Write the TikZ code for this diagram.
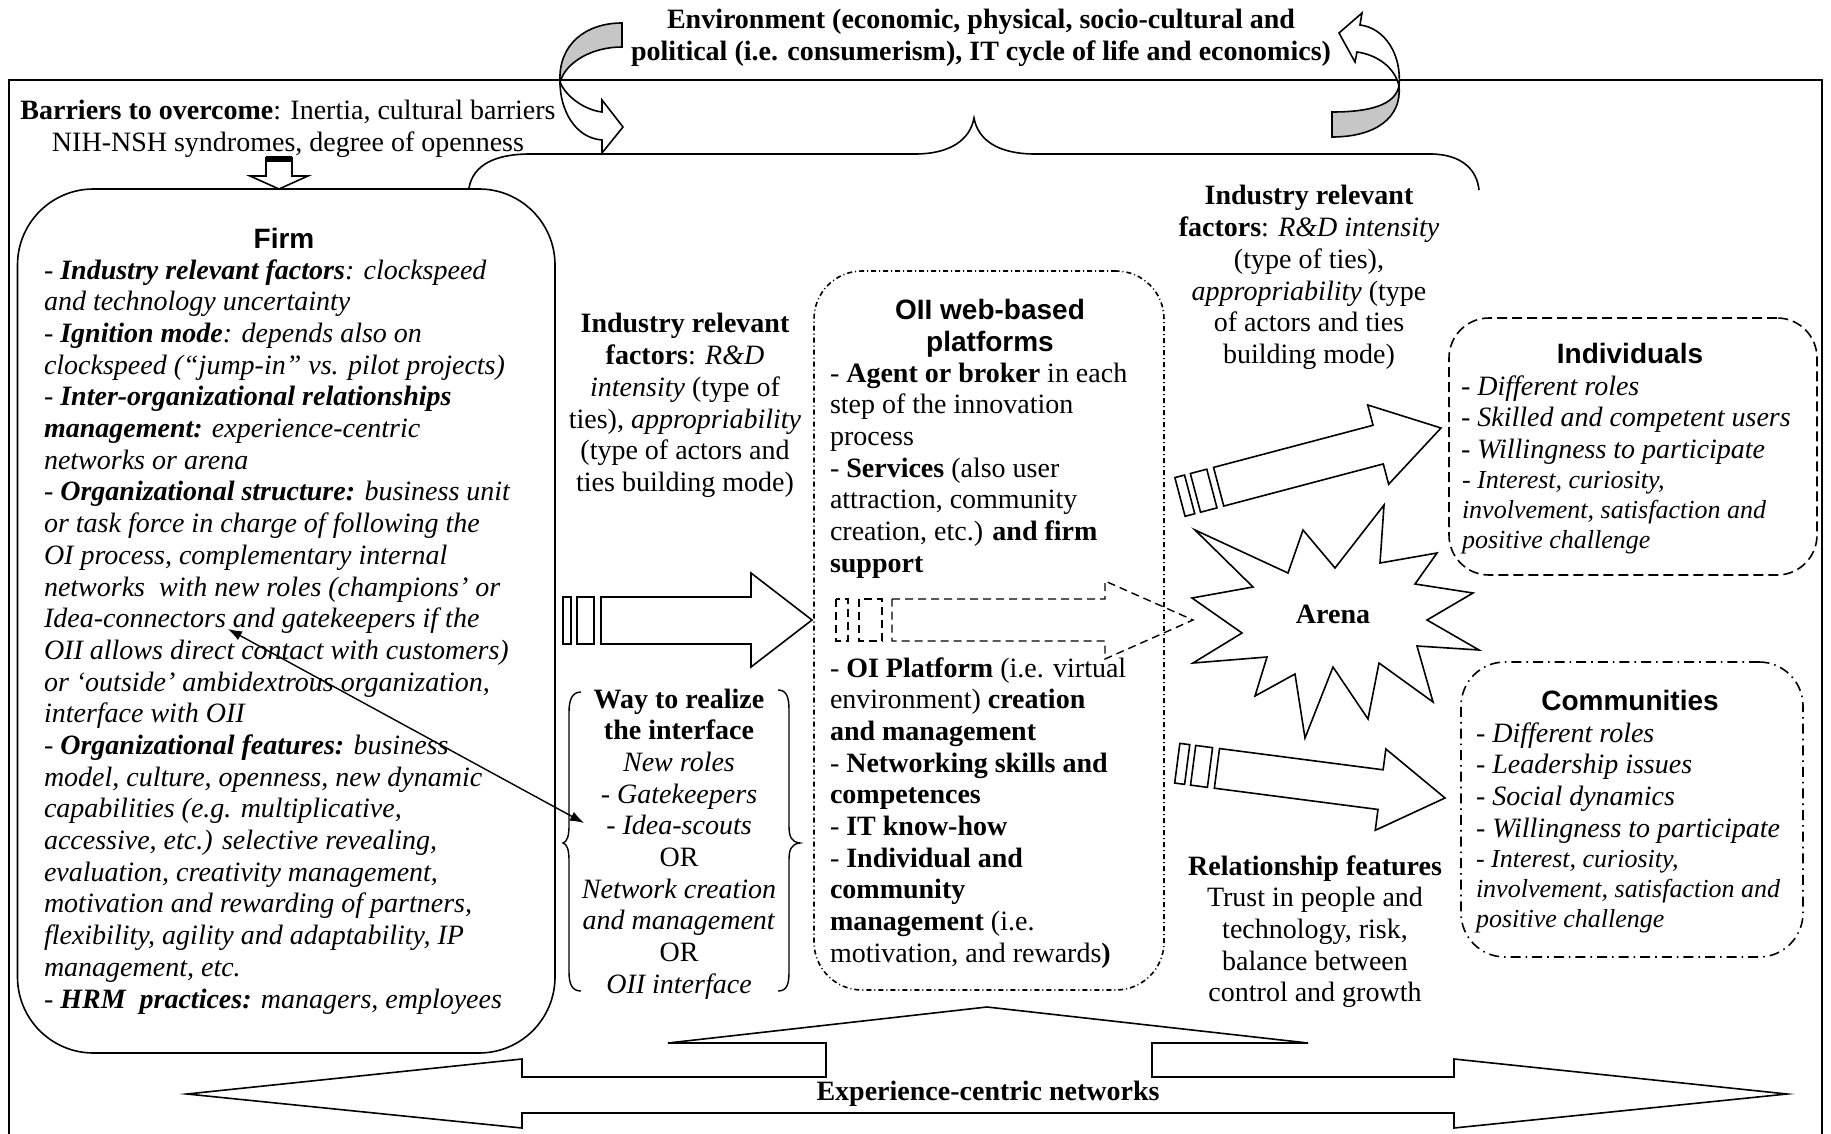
\documentclass[tikz,border=0pt]{standalone}
\usepackage{fontspec}
\setmainfont{Liberation Serif}
\setsansfont{Liberation Sans}
\usetikzlibrary{arrows.meta}
\newcommand\fs{\fontsize{14}{15.85}\selectfont}
\newcommand\fss{\fontsize{13}{15}\selectfont}
\newcommand\blk[2]{\begin{tabular}[t]{@{}#1@{}}#2\end{tabular}}
\newcommand\tiltarrow[2]{%
  \begin{scope}[shift={#1},rotate=#2]
    \draw[blockarr] (-270,-20) -- (-260,-20) -- (-260,20) -- (-270,20) -- cycle;
    \draw[blockarr] (-254,-20) -- (-237,-20) -- (-237,20) -- (-254,20) -- cycle;
    \draw[blockarr] (-230,-20) -- (-65,-20) -- (-65,-41) -- (0,0) -- (-65,41) -- (-65,20) -- (-230,20) -- cycle;
  \end{scope}}
\begin{document}
\begin{tikzpicture}[x=0.5pt,y=-0.5pt,line width=0.8pt,line join=miter,
  every node/.style={inner sep=0pt,outer sep=0pt,font=\fs},
  title/.style={font=\fs\sffamily\bfseries},
  boxln/.style={draw,line width=0.8pt,anchor=north west},
  blockarr/.style={draw,fill=white,line width=0.8pt},
  dashblk/.style={draw,dash pattern=on 4pt off 2.5pt,line width=0.7pt},
  oiidash/.style={dash pattern=on 2.5pt off 1.5pt on 0.5pt off 1.5pt},
  comdash/.style={dash pattern=on 5pt off 2.5pt on 0.8pt off 2.5pt},
  inddash/.style={dash pattern=on 5pt off 2.5pt}]
\useasboundingbox (0,0) rectangle (1831,1134);
\fill[white] (0,0) rectangle (1831,1134);

% outer frame
\draw (9,1140) -- (9,80) -- (1822,80) -- (1822,1140);

% top text
\node[anchor=base,font=\fs\bfseries] (env) at (981,29) {\blk{c}{Environment (economic, physical, socio-cultural and\\ political (i.e. consumerism), IT cycle of life and economics)}};

% barriers
\node[anchor=base] (barr) at (288,120) {\blk{c}{\textbf{Barriers to overcome}: Inertia, cultural barriers\\ NIH-NSH syndromes, degree of openness}};
\draw[fill=white] (266,158) -- (292,158) -- (292,176) -- (308,176) -- (279,189) -- (250,176) -- (266,176) -- cycle;
\fill (266,156) rectangle (292,162);

% brace
\draw (469,188) .. controls (473,165) and (495,154) .. (530,154) -- (915,154)
  .. controls (950,154) and (970,140) .. (974,118)
  .. controls (978,140) and (998,154) .. (1035,154) -- (1430,154)
  .. controls (1462,154) and (1477,170) .. (1479,190);

% boxes
\node[boxln,rounded corners=38pt,minimum width=268.75pt,minimum height=432pt] (firm) at (17.5,189) {};
\node[boxln,oiidash,rounded corners=24pt,minimum width=175pt,minimum height=359.5pt] (oii) at (814,271) {};
\node[boxln,inddash,rounded corners=20pt,minimum width=184pt,minimum height=128.5pt] (indiv) at (1449,318) {};
\node[boxln,comdash,rounded corners=22pt,minimum width=171pt,minimum height=147.5pt] (comm) at (1461,662) {};

% firm text
\node[anchor=base,title] (firmt) at (284,249) {Firm};
\node[anchor=base west,font=\fs\itshape] (firmb) at (44,279) {\blk{l}{%
- \textbf{Industry relevant factors}: clockspeed\\
and technology uncertainty\\
- \textbf{Ignition mode}: depends also on\\
clockspeed (“jump-in” vs. pilot projects)\\
- \textbf{Inter-organizational relationships}\\
\textbf{management:} experience-centric\\
networks or arena\\
- \textbf{Organizational structure:} business unit\\
or task force in charge of following the\\
OI process, complementary internal\\
networks\ \ with new roles (champions’ or\\
Idea-connectors and gatekeepers if the\\
OII allows direct contact with customers)\\
or ‘outside’ ambidextrous organization,\\
interface with OII\\
- \textbf{Organizational features:} business\\
model, culture, openness, new dynamic\\
capabilities (e.g. multiplicative,\\
accessive, etc.) selective revealing,\\
evaluation, creativity management,\\
motivation and rewarding of partners,\\
flexibility, agility and adaptability, IP\\
management, etc.\\
- \textbf{HRM\ \ practices:} managers, employees}};

% middle-left industry factors
\node[anchor=base] (ind1) at (685,333) {\blk{c}{%
\textbf{Industry relevant}\\
\textbf{factors}: \textit{R\&D}\\
\textit{intensity} (type of\\
ties), \textit{appropriability}\\
(type of actors and\\
ties building mode)}};

% OII text
\node[anchor=base,title] (oiit) at (990,320) {\blk{c}{OII web-based\\platforms}};
\node[anchor=base west] (oiib1) at (830,382) {\blk{l}{%
- \textbf{Agent or broker} in each\\
step of the innovation\\
process\\
- \textbf{Services} (also user\\
attraction, community\\
creation, etc.) \textbf{and firm}\\
\textbf{support}}};
\node[anchor=base west] (oiib2) at (830,677) {\blk{l}{%
- \textbf{OI Platform} (i.e. virtual\\
environment) \textbf{creation}\\
\textbf{and management}\\
- \textbf{Networking skills and}\\
\textbf{competences}\\
- \textbf{IT know-how}\\
- \textbf{Individual and}\\
\textbf{community}\\
\textbf{management} (i.e.\\
motivation, and rewards\textbf{)}}};

% way to realize
\node[anchor=base] (way) at (679,708) {\blk{c}{%
\textbf{Way to realize}\\
\textbf{the interface}\\
\textit{New roles}\\
- \textit{Gatekeepers}\\
- \textit{Idea-scouts}\\
OR\\
\textit{Network creation}\\
\textit{and management}\\
OR\\
\textit{OII interface}}};
\draw[line width=0.7pt] (581,692) .. controls (572,692) and (569,700) .. (569,712) -- (569,826)
  .. controls (569,836) and (567,842) .. (563,843)
  .. controls (567,844) and (569,850) .. (569,860) -- (569,972)
  .. controls (569,984) and (572,991) .. (581,991);
\draw[line width=0.7pt] (778,690) .. controls (787,690) and (789,698) .. (789,710) -- (789,826)
  .. controls (789,836) and (791,842) .. (800,843)
  .. controls (791,844) and (789,850) .. (789,860) -- (789,972)
  .. controls (789,984) and (787,991) .. (778,991);

% right industry factors
\node[anchor=base] (ind2) at (1309,205) {\blk{c}{%
\textbf{Industry relevant}\\
\textbf{factors}: \textit{R\&D intensity}\\
(type of ties),\\
\textit{appropriability} (type\\
of actors and ties\\
building mode)}};

% individuals
\node[anchor=base,title] (indt) at (1630,363) {Individuals};
\node[anchor=base west] (indb) at (1461,395) {\blk{l}{%
- \textit{Different roles}\\
- \textit{Skilled and competent users}\\
- \textit{Willingness to participate}}};
\node[anchor=base west,font=\fss] (indc) at (1462,488) {\blk{l}{%
- \textit{Interest, curiosity,}\\
\textit{involvement, satisfaction and}\\
\textit{positive challenge}}};

% communities
\node[anchor=base,title] (comt) at (1630,710) {Communities};
\node[anchor=base west] (comb) at (1476,742) {\blk{l}{%
- \textit{Different roles}\\
- \textit{Leadership issues}\\
- \textit{Social dynamics}\\
- \textit{Willingness to participate}}};
\node[anchor=base west,font=\fss] (comc) at (1476,867) {\blk{l}{%
- \textit{Interest, curiosity,}\\
\textit{involvement, satisfaction and}\\
\textit{positive challenge}}};

% relationship features
\node[anchor=base] (rel) at (1315,875) {\blk{c}{%
\textbf{Relationship features}\\
Trust in people and\\
technology, risk,\\
balance between\\
control and growth}};

% arrow into OII
\draw[blockarr] (563,597) rectangle (571,644);
\draw[blockarr] (577,597) rectangle (594,644);
\draw[blockarr] (601,597) -- (751,597) -- (751,573) -- (812,620) -- (751,667) -- (751,644) -- (601,644) -- cycle;

% dashed arrow to arena
\draw[dashblk] (836,599) rectangle (848,641);
\draw[dashblk] (859,599) rectangle (882,641);
\draw[dashblk] (892,599) -- (1105,599) -- (1105,581) -- (1193,620) -- (1105,659) -- (1105,641) -- (892,641) -- cycle;

% arrows to individuals and communities
\tiltarrow{(1441,428)}{14.8}
\tiltarrow{(1445,798)}{-7.4}

% arena star
\draw[fill=white] (1195,530) -- (1288,573) -- (1303,530) -- (1335,568) -- (1384,505) -- (1380,563)
  -- (1437,553) -- (1415,584) -- (1473,593) -- (1427,620) -- (1479,650) -- (1417,646)
  -- (1433,702) -- (1379,663) -- (1368,719) -- (1333,667) -- (1305,738) -- (1295,674)
  -- (1255,696) -- (1267,657) -- (1193,663) -- (1242,633) -- (1192,598) -- (1253,587) -- cycle;
\node[anchor=base,font=\fs\bfseries] (arena) at (1333,623) {Arena};

% double arrow idea-connectors <-> idea-scouts
\coordinate (icon) at (228,629);
\coordinate (iscout) at (584,823);
\draw[{Latex[length=7pt,width=5pt]}-{Latex[length=7pt,width=5pt]},line width=0.7pt] (icon) -- (iscout);

% bottom arrow
\draw[fill=white] (187,1094) -- (522,1059) -- (522,1077) -- (826,1077) -- (826,1043) -- (668,1043)
  -- (987,1007) -- (1308,1043) -- (1152,1043) -- (1152,1077) -- (1454,1077) -- (1454,1059)
  -- (1787,1094) -- (1454,1128) -- (1454,1113) -- (522,1113) -- (522,1128) -- cycle;
\node[anchor=base,font=\fs\bfseries] (exp) at (988,1100) {Experience-centric networks};

% curved arrows (environment)
\draw[fill=gray!45] (560,82) .. controls (558,45) and (585,23) .. (622,23) -- (622,47)
  .. controls (592,47) and (566,62) .. (560,82) -- cycle;
\draw[fill=white] (560,82) .. controls (566,97) and (585,110) .. (602,112) -- (602,100) -- (623,127)
  -- (602,153) -- (602,140) .. controls (575,138) and (560,110) .. (560,82) -- cycle;
\draw[fill=gray!45] (1399,86) .. controls (1395,105) and (1370,112) .. (1332,112) -- (1332,137)
  .. controls (1375,137) and (1402,118) .. (1399,86) -- cycle;
\draw[fill=white] (1399,86) .. controls (1402,55) and (1385,28) .. (1360,25) -- (1362,13) -- (1339,33)
  -- (1355,62) -- (1357,52) .. controls (1378,55) and (1395,68) .. (1399,86) -- cycle;
\end{tikzpicture}
\end{document}
